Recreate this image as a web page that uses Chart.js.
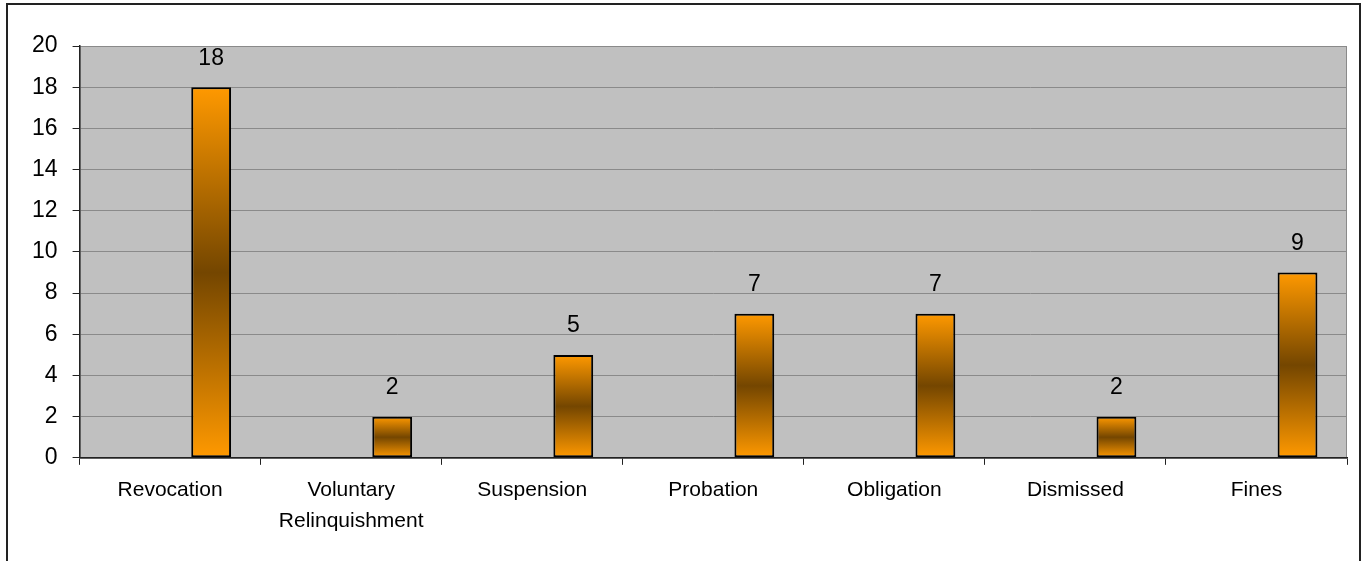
<!DOCTYPE html>
<html>
<head>
<meta charset="utf-8">
<script src="https://cdn.jsdelivr.net/npm/chart.js@4.4.0/dist/chart.umd.min.js"></script>
<style>
  body { margin: 0; background: #fff; }
</style>
</head>
<body>
<canvas id="grafico" width="1362" height="561"></canvas>
<script>
// categorias e valores
var categorias = ['Revocation', ['Voluntary', 'Relinquishment'], 'Suspension', 'Probation', 'Obligation', 'Dismissed', 'Fines'];
var valores = [18, 2, 5, 7, 7, 2, 9];
// series vazias (o grafico original tem duas series sem valores antes desta)
var vazioA = [];
var vazioB = [];
var ticksY = [0, 2, 4, 6, 8, 10, 12, 14, 16, 18, 20];

var fonte = "'Liberation Sans', Arial, sans-serif";

function gradiente(c) {
    var chart = c.chart;
    if (!chart.chartArea || c.type !== 'data') return '#FF9900';
    var y = chart.scales.y;
    var topo = y.getPixelForValue(c.raw);
    var base = y.getPixelForValue(0);
    if (!isFinite(topo) || topo === base) return '#FF9900';
    var g = chart.ctx.createLinearGradient(0, topo, 0, base);
    g.addColorStop(0, '#FF9900');
    g.addColorStop(0.5, '#744600');
    g.addColorStop(1, '#FF9900');
    return g;
}

var fundo = {
    id: 'fundo',
    beforeDraw: function (chart) {
        var ctx = chart.ctx, a = chart.chartArea;
        ctx.save();
        ctx.fillStyle = '#fff';
        ctx.fillRect(0, 0, chart.width, chart.height);
        ctx.strokeStyle = '#222';
        ctx.lineWidth = 2;
        ctx.strokeRect(7, 4, 1353, 700);
        ctx.fillStyle = '#C0C0C0';
        ctx.fillRect(a.left, a.top, a.right - a.left, a.bottom - a.top);
        ctx.strokeStyle = '#8a8a8a';
        ctx.lineWidth = 1;
        ctx.strokeRect(a.left + 0.5, a.top + 0.5, a.right - a.left - 1, a.bottom - a.top);
        ctx.restore();
    }
};

var rotulos = {
    id: 'rotulos',
    afterDatasetsDraw: function (chart) {
        var ctx = chart.ctx;
        var meta = chart.getDatasetMeta(2);
        ctx.save();
        ctx.font = '23px ' + fonte;
        ctx.fillStyle = '#000';
        ctx.textAlign = 'center';
        ctx.textBaseline = 'middle';
        meta.data.forEach(function (bar, i) {
            ctx.fillText(valores[i], bar.x, bar.y - 29);
        });
        ctx.restore();
    }
};

var ctx = document.getElementById('grafico');
var grafico = new Chart(ctx, {
    type: 'bar',
    data: {
        labels: categorias,
        datasets: [
            { data: vazioA, backgroundColor: 'transparent', borderWidth: 0 },
            { data: vazioB, backgroundColor: 'transparent', borderWidth: 0 },
            {
                data: valores,
                backgroundColor: gradiente,
                borderColor: '#000',
                borderWidth: 2,
                borderSkipped: false
            }
        ]
    },
    options: {
        responsive: false,
        animation: false,
        events: [],
        categoryPercentage: 0.68,
        barPercentage: 0.97,
        layout: { padding: { left: 17, right: 15, top: 46, bottom: 14 } },
        plugins: {
            legend: { display: false },
            tooltip: { enabled: false },
            title: { display: false }
        },
        scales: {
            x: {
                grid: { drawOnChartArea: false, drawTicks: true, tickLength: 7, color: '#222', offset: true },
                border: { color: '#222', width: 1.5 },
                ticks: {
                    color: '#000',
                    padding: 10,
                    maxRotation: 0,
                    autoSkip: false,
                    font: { family: fonte, size: 21, lineHeight: 1.48 }
                }
            },
            y: {
                min: 0,
                max: 20,
                afterBuildTicks: function (axis) {
                    axis.ticks = ticksY.map(function (v) { return { value: v }; });
                },
                grid: { color: '#8a8a8a', tickColor: '#222', tickLength: 7 },
                border: { color: '#222', width: 1.5 },
                ticks: {
                    color: '#000',
                    padding: 15,
                    font: { family: fonte, size: 23 }
                }
            }
        }
    },
    plugins: [fundo, rotulos]
});
</script>
</body>
</html>
